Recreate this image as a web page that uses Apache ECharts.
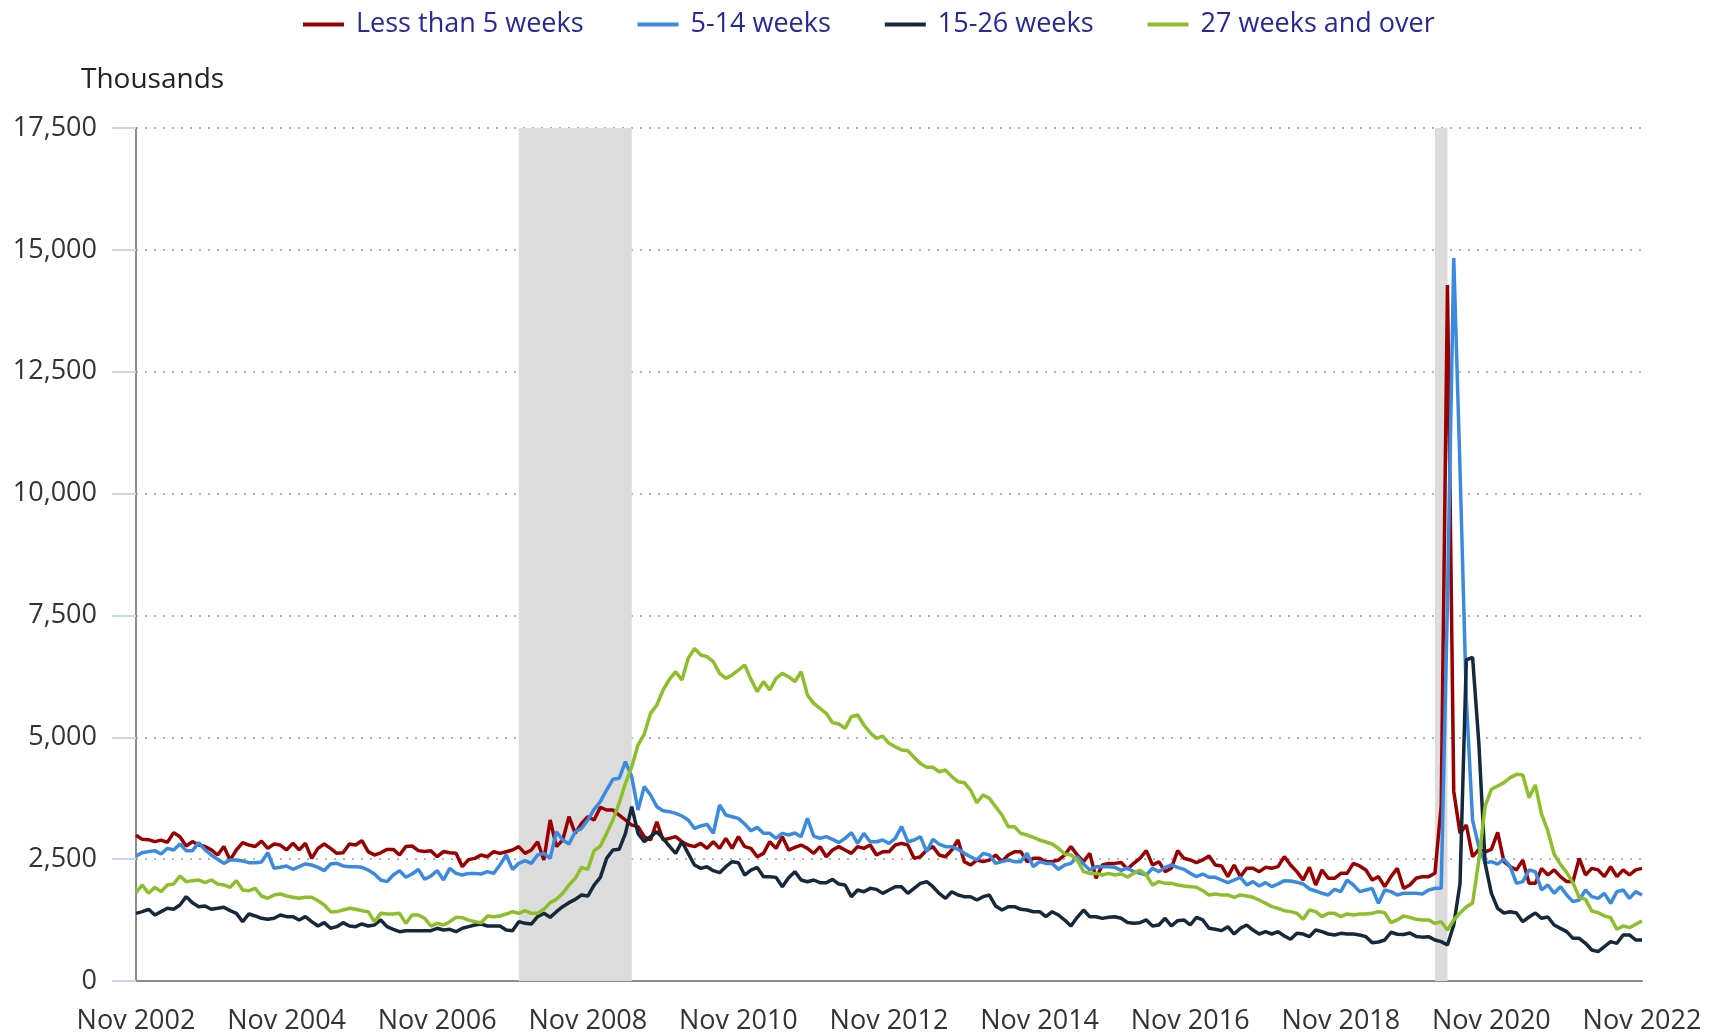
<!DOCTYPE html>
<html>
<head>
<meta charset="utf-8">
<script src="https://cdn.jsdelivr.net/npm/echarts@6/dist/echarts.min.js"></script>
<style>
  html, body { margin: 0; padding: 0; background: #fff; }
  #chart { width: 1719px; height: 1036px; }
</style>
</head>
<body>
<div id="chart"></div>
<script>
// monthly, Nov 2002 .. Nov 2022 (thousands)
var monthNames = ['Jan', 'Feb', 'Mar', 'Apr', 'May', 'Jun', 'Jul', 'Aug', 'Sep', 'Oct', 'Nov', 'Dec'];
var months = [];
for (var k = 0; k < 241; k++) {
    var m = (10 + k) % 12;
    var y = 2002 + Math.floor((10 + k) / 12);
    months.push(monthNames[m] + ' ' + y);
}

var seriesNames = ['Less than 5 weeks', '5-14 weeks', '15-26 weeks', '27 weeks and over'];
var seriesColors = ['#9b0000', '#3a8ae0', '#15283c', '#8cbf2a'];

var lessThan5 = [
    2990, 2906, 2900, 2860, 2890, 2845, 3044, 2960, 2770, 2860, 2790, 2760, 2690, 2585, 2760, 2480, 2690, 2840, 2790, 2760,
    2870, 2720, 2810, 2790, 2690, 2825, 2690, 2825, 2515, 2720, 2810, 2720, 2620, 2630, 2810, 2790, 2880, 2655, 2585, 2630,
    2700, 2700, 2585, 2760, 2770, 2675, 2655, 2670, 2550, 2655, 2630, 2620, 2345, 2490, 2516, 2585, 2550, 2653, 2619, 2653,
    2687, 2756, 2619, 2687, 2858, 2482, 3303, 2756, 2892, 3371, 3029, 3234, 3371, 3303, 3562, 3508, 3508, 3405, 3303, 3200,
    3166, 2961, 2892, 3268, 2892, 2927, 2961, 2858, 2790, 2756, 2824, 2721, 2858, 2721, 2927, 2721, 2961, 2756, 2721, 2550,
    2619, 2858, 2721, 2961, 2687, 2740, 2790, 2721, 2619, 2756, 2550, 2687, 2756, 2687, 2619, 2756, 2721, 2790, 2585, 2653,
    2653, 2790, 2824, 2790, 2516, 2550, 2687, 2756, 2585, 2550, 2687, 2892, 2448, 2379, 2482, 2448, 2482, 2585, 2448, 2585,
    2653, 2653, 2448, 2516, 2516, 2448, 2448, 2482, 2585, 2756, 2585, 2448, 2619, 2106, 2379, 2413, 2413, 2430, 2295, 2414,
    2517, 2674, 2380, 2448, 2243, 2312, 2674, 2517, 2483, 2428, 2483, 2565, 2380, 2360, 2141, 2380, 2141, 2312, 2312, 2243,
    2332, 2312, 2346, 2551, 2380, 2243, 2072, 2332, 1970, 2277, 2107, 2107, 2209, 2209, 2414, 2360, 2277, 2072, 2141, 1935,
    2141, 2312, 1901, 1970, 2107, 2141, 2141, 2209, 3600, 14280, 3890, 3030, 3200, 2550, 2700, 2650, 2700, 3050, 2450, 2345,
    2280, 2480, 2004, 2004, 2310, 2175, 2280, 2140, 2040, 2040, 2515, 2175, 2310, 2280, 2140, 2345, 2140, 2280, 2175, 2280,
    2310
];

var weeks5to14 = [
    2565, 2633, 2654, 2674, 2606, 2722, 2688, 2811, 2674, 2674, 2838, 2688, 2585, 2496, 2414, 2483, 2483, 2462, 2428, 2428,
    2442, 2633, 2312, 2332, 2360, 2291, 2346, 2401, 2380, 2332, 2264, 2401, 2414, 2360, 2346, 2346, 2332, 2277, 2195, 2072,
    2038, 2175, 2264, 2127, 2195, 2291, 2086, 2154, 2264, 2072, 2312, 2209, 2175, 2208, 2208, 2195, 2243, 2208, 2380, 2585,
    2290, 2413, 2468, 2413, 2585, 2619, 2516, 3063, 2892, 2810, 3063, 3132, 3303, 3521, 3679, 3918, 4137, 4158, 4499, 4192,
    3508, 3987, 3816, 3576, 3494, 3474, 3439, 3385, 3303, 3132, 3180, 3214, 3029, 3610, 3405, 3371, 3337, 3221, 3084, 3152,
    3029, 3029, 2927, 3029, 2995, 3036, 2961, 3337, 2974, 2927, 2961, 2906, 2838, 2927, 3043, 2824, 3029, 2858, 2858, 2892,
    2824, 2927, 3166, 2858, 2892, 2961, 2653, 2906, 2810, 2756, 2756, 2701, 2619, 2550, 2482, 2619, 2585, 2413, 2448, 2482,
    2448, 2448, 2619, 2345, 2448, 2413, 2413, 2290, 2379, 2413, 2550, 2400, 2277, 2345, 2345, 2345, 2332, 2270, 2320, 2243,
    2209, 2175, 2312, 2243, 2332, 2380, 2332, 2291, 2209, 2141, 2195, 2127, 2127, 2072, 2018, 2072, 2127, 1970, 2038, 1949,
    2018, 1936, 1990, 2059, 2052, 2025, 1990, 1888, 1847, 1799, 1765, 1881, 1833, 2072, 1970, 1833, 1867, 1901, 1594, 1867,
    1833, 1765, 1799, 1799, 1799, 1785, 1867, 1901, 1901, 7800, 14830, 10500, 5800, 3300, 2750, 2420, 2450, 2400, 2500, 2345,
    2004, 2038, 2277, 2243, 1867, 1970, 1799, 1936, 1765, 1628, 1662, 1867, 1731, 1696, 1799, 1594, 1833, 1867, 1696, 1833,
    1765
];

var weeks15to26 = [
    1388, 1423, 1471, 1354, 1423, 1491, 1471, 1559, 1730, 1607, 1525, 1539, 1471, 1491, 1512, 1443, 1388, 1217, 1375, 1334,
    1286, 1265, 1286, 1354, 1320, 1320, 1252, 1320, 1217, 1128, 1197, 1081, 1115, 1197, 1128, 1115, 1170, 1128, 1149, 1252,
    1115, 1060, 1012, 1033, 1033, 1033, 1033, 1033, 1081, 1046, 1060, 1012, 1081, 1115, 1148, 1169, 1128, 1128, 1128, 1046,
    1032, 1217, 1183, 1169, 1319, 1388, 1306, 1422, 1524, 1607, 1675, 1764, 1743, 1969, 2126, 2516, 2687, 2701, 3029, 3576,
    3029, 2858, 2961, 3063, 2927, 2769, 2619, 2858, 2619, 2379, 2311, 2345, 2263, 2222, 2345, 2448, 2427, 2174, 2277, 2331,
    2140, 2140, 2126, 1935, 2120, 2243, 2072, 2037, 2072, 2017, 2017, 2085, 1989, 1969, 1730, 1866, 1832, 1901, 1880, 1798,
    1866, 1935, 1935, 1798, 1901, 2003, 2037, 1935, 1798, 1695, 1832, 1764, 1730, 1730, 1661, 1730, 1764, 1538, 1456, 1524,
    1524, 1470, 1456, 1422, 1422, 1319, 1422, 1354, 1251, 1128, 1306, 1456, 1319, 1319, 1285, 1306, 1319, 1286, 1200, 1183,
    1197, 1252, 1128, 1149, 1286, 1128, 1238, 1252, 1149, 1306, 1252, 1081, 1060, 1033, 1115, 964, 1081, 1149, 1046, 964,
    1012, 964, 1012, 923, 855, 978, 964, 910, 1046, 1012, 964, 944, 978, 964, 964, 944, 910, 787, 800, 841,
    1000, 960, 955, 985, 915, 900, 910, 841, 807, 739, 1150, 2000, 6586, 6640, 4880, 2414, 1799, 1491, 1395, 1422,
    1395, 1217, 1313, 1395, 1286, 1313, 1149, 1080, 1012, 875, 875, 773, 636, 602, 704, 807, 773, 944, 944, 841,
    841
];

var weeks27plus = [
    1812, 1970, 1799, 1922, 1833, 1970, 1990, 2154, 2038, 2059, 2072, 2018, 2072, 1990, 1970, 1922, 2059, 1867, 1853, 1901,
    1744, 1696, 1765, 1785, 1744, 1717, 1696, 1717, 1717, 1648, 1559, 1423, 1423, 1457, 1491, 1471, 1443, 1423, 1217, 1388,
    1375, 1375, 1388, 1183, 1354, 1354, 1286, 1128, 1183, 1149, 1217, 1306, 1300, 1250, 1217, 1196, 1333, 1319, 1333, 1374,
    1422, 1388, 1443, 1388, 1388, 1470, 1607, 1675, 1798, 1969, 2106, 2331, 2290, 2673, 2769, 3029, 3303, 3650, 4055, 4397,
    4841, 5067, 5491, 5662, 5970, 6189, 6346, 6175, 6620, 6825, 6688, 6654, 6551, 6312, 6209, 6278, 6380, 6483, 6189, 5936,
    6141, 5970, 6209, 6312, 6243, 6140, 6346, 5867, 5696, 5594, 5491, 5300, 5272, 5183, 5423, 5457, 5252, 5094, 4978, 5026,
    4876, 4807, 4739, 4725, 4588, 4465, 4383, 4383, 4294, 4328, 4192, 4089, 4069, 3918, 3658, 3816, 3747, 3576, 3405, 3166,
    3166, 3029, 2995, 2947, 2892, 2851, 2810, 2721, 2605, 2585, 2482, 2243, 2208, 2208, 2174, 2208, 2174, 2200, 2130, 2209,
    2277, 2175, 1970, 2038, 2004, 2004, 1970, 1949, 1936, 1922, 1853, 1765, 1785, 1765, 1765, 1717, 1765, 1744, 1717, 1662,
    1594, 1525, 1491, 1443, 1423, 1388, 1265, 1457, 1423, 1320, 1388, 1388, 1320, 1375, 1354, 1375, 1375, 1388, 1423, 1400,
    1197, 1252, 1334, 1306, 1265, 1252, 1252, 1183, 1217, 1046, 1252, 1395, 1518, 1600, 2482, 3590, 3933, 4001, 4070, 4172,
    4240, 4227, 3762, 4022, 3420, 3078, 2600, 2394, 2223, 2018, 1710, 1675, 1436, 1402, 1333, 1300, 1060, 1130, 1094, 1163,
    1231
];

// recession periods (shaded)
var recessions = [['Dec 2007', 'Jun 2009'], ['Feb 2020', 'Apr 2020']];

var allData = [lessThan5, weeks5to14, weeks15to26, weeks27plus];
var font = '"Open Sans", "DejaVu Sans", sans-serif';

var chart = echarts.init(document.getElementById('chart'));

var series = [{
    name: 'recessions',
    type: 'line',
    data: [],
    silent: true,
    z: 1,
    markArea: {
        silent: true,
        itemStyle: { color: '#dcdcdc', opacity: 1 },
        data: recessions.map(function (r) { return [{ xAxis: r[0] }, { xAxis: r[1] }]; })
    }
}];
seriesNames.forEach(function (name, i) {
    series.push({
        name: name,
        type: 'line',
        data: allData[i],
        symbol: 'none',
        z: 3,
        lineStyle: { color: seriesColors[i], width: 3.5 },
        itemStyle: { color: seriesColors[i] }
    });
});

chart.setOption({
    animation: false,
    backgroundColor: '#ffffff',
    title: {
        text: 'Thousands',
        left: 76,
        top: 61,
        textStyle: { fontFamily: font, fontSize: 28, fontWeight: 'normal', color: '#222' }
    },
    legend: {
        data: seriesNames,
        top: 6,
        left: 298,
        icon: 'rect',
        itemWidth: 41,
        itemHeight: 4,
        itemGap: 54,
        textStyle: { fontFamily: font, fontSize: 27, color: '#28289a', padding: [0, 0, 0, 7] }
    },
    grid: { left: 136, right: 77, top: 128, bottom: 55 },
    xAxis: {
        type: 'category',
        data: months,
        boundaryGap: false,
        axisLine: { lineStyle: { color: '#8c8c8c', width: 2 } },
        axisTick: { show: false },
        axisLabel: {
            interval: 23,
            margin: 27,
            fontFamily: font,
            fontSize: 27,
            color: '#333'
        },
        splitLine: { show: false }
    },
    yAxis: {
        type: 'value',
        min: 0,
        max: 17500,
        interval: 2500,
        axisLine: { show: true, lineStyle: { color: '#8c8c8c', width: 2 } },
        axisTick: { show: true, length: 24, lineStyle: { color: '#c8d6ee', width: 2 } },
        axisLabel: {
            margin: 39,
            fontFamily: font,
            fontSize: 27,
            color: '#333',
            formatter: function (v) { return v.toLocaleString('en-US'); }
        },
        splitLine: { lineStyle: { color: '#b4b4b4', width: 2, type: [2, 7] } }
    },
    series: series
});
</script>
</body>
</html>
